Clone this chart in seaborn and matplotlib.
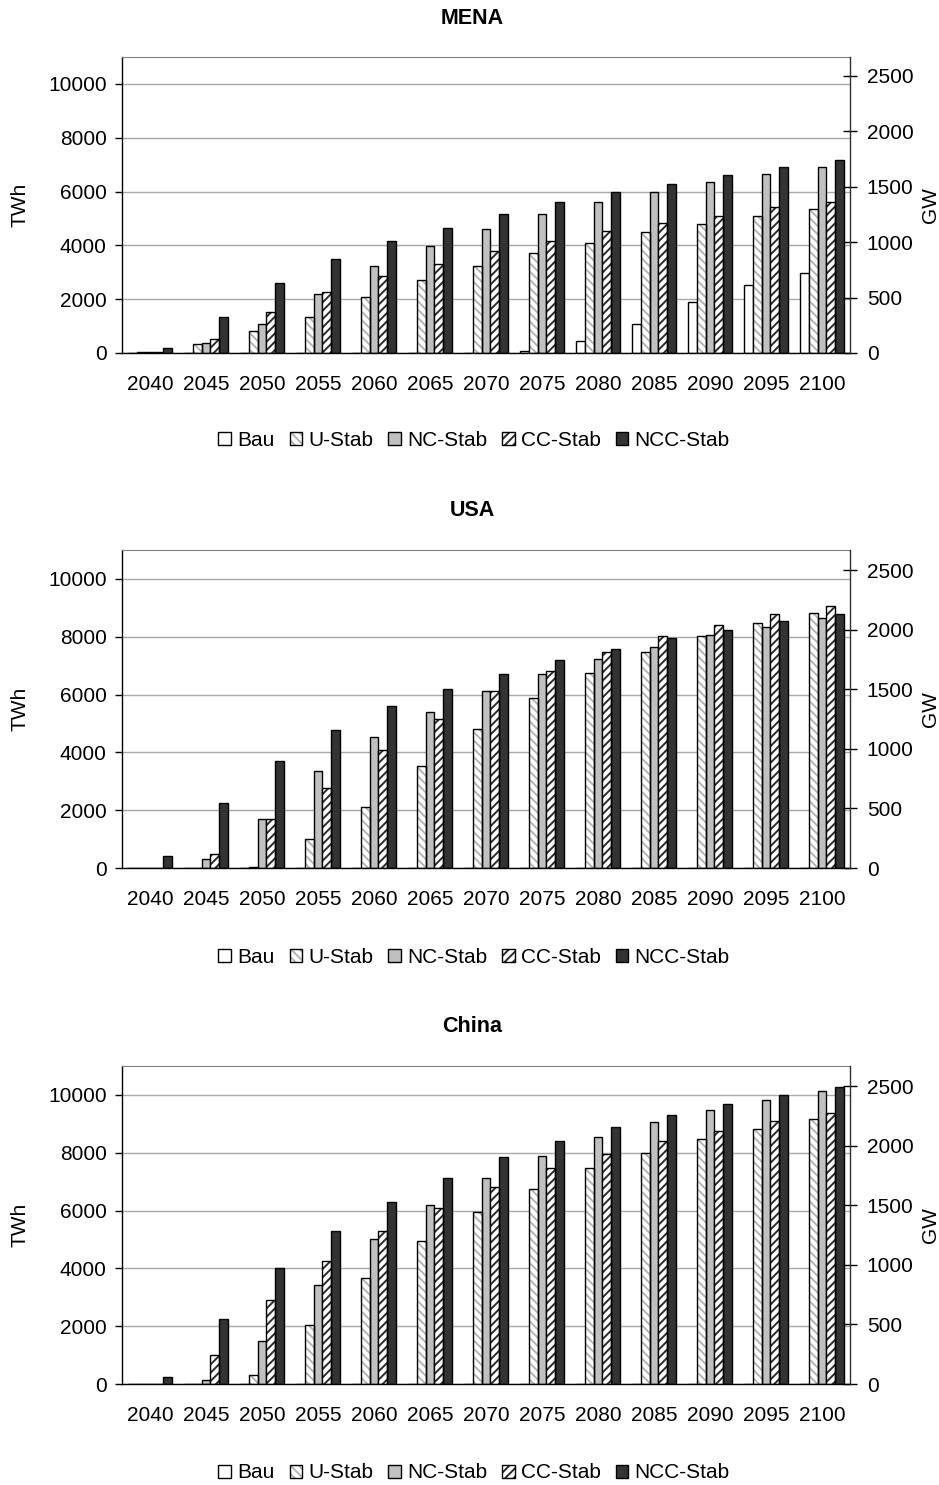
import matplotlib
matplotlib.use("Agg")
import matplotlib.pyplot as plt
from matplotlib.patches import Patch, Rectangle
from matplotlib.legend_handler import HandlerTuple
import seaborn as sns
import numpy as np
import pandas as pd

years = ['2040', '2045', '2050', '2055', '2060', '2065', '2070',
         '2075', '2080', '2085', '2090', '2095', '2100']
scenarios = ['Bau', 'U-Stab', 'NC-Stab', 'CC-Stab', 'NCC-Stab']

# TWh
mena_bau = [0, 0, 0, 0, 0, 0, 0, 60, 430, 1090, 1880, 2510, 2960]
mena_u = [50, 320, 820, 1340, 2080, 2700, 3220, 3710, 4100, 4480, 4790, 5100, 5360]
mena_nc = [50, 390, 1090, 2210, 3220, 3960, 4590, 5170, 5600, 5980, 6350, 6670, 6930]
mena_cc = [50, 510, 1520, 2270, 2850, 3320, 3780, 4150, 4540, 4840, 5100, 5410, 5600]
mena_ncc = [180, 1340, 2600, 3480, 4160, 4660, 5170, 5600, 5980, 6290, 6620, 6930, 7180]

usa_bau = [0, 0, 0, 0, 0, 0, 0, 0, 0, 0, 0, 0, 0]
usa_u = [0, 0, 50, 1000, 2120, 3530, 4820, 5890, 6760, 7470, 8010, 8480, 8810]
usa_nc = [0, 310, 1690, 3350, 4530, 5400, 6120, 6710, 7220, 7650, 8050, 8350, 8650]
usa_cc = [0, 470, 1690, 2780, 4070, 5170, 6120, 6820, 7470, 8010, 8410, 8770, 9060]
usa_ncc = [420, 2240, 3710, 4770, 5590, 6190, 6710, 7180, 7590, 7950, 8240, 8540, 8770]

chn_bau = [0, 0, 0, 0, 0, 0, 0, 0, 0, 0, 0, 0, 0]
chn_u = [0, 0, 300, 2030, 3660, 4950, 5950, 6750, 7480, 8000, 8480, 8830, 9180]
chn_nc = [0, 140, 1490, 3420, 5010, 6190, 7110, 7880, 8540, 9060, 9470, 9830, 10120]
chn_cc = [0, 990, 2890, 4250, 5300, 6100, 6820, 7480, 7950, 8410, 8760, 9110, 9360]
chn_ncc = [230, 2240, 4020, 5300, 6300, 7110, 7840, 8410, 8880, 9300, 9700, 10000, 10290]

regions = ['MENA', 'USA', 'China']
region_data = {
    'MENA': [mena_bau, mena_u, mena_nc, mena_cc, mena_ncc],
    'USA': [usa_bau, usa_u, usa_nc, usa_cc, usa_ncc],
    'China': [chn_bau, chn_u, chn_nc, chn_cc, chn_ncc],
}

# face, hatch, hatch colour
styles = {
    'Bau': ('white', None, None),
    'U-Stab': ('white', '\\\\\\\\', '#b4b4b4'),
    'NC-Stab': ('#c0c0c0', None, None),
    'CC-Stab': ('white', '////', '#2a2a2a'),
    'NCC-Stab': ('#333333', None, None),
}

sns.set_style("white")
plt.rcParams['font.family'] = ['Liberation Sans', 'DejaVu Sans']
plt.rcParams['hatch.linewidth'] = 1.4
for k in ['text.color', 'axes.labelcolor', 'xtick.color', 'ytick.color']:
    plt.rcParams[k] = 'black'

FS = 15
W, H = 939, 1485
fig = plt.figure(figsize=(W / 100, H / 100), dpi=100)

# panel layout in pixels: (axes top, axes bottom, title y, legend y)
layout = {
    'MENA': (57, 353, 18, 440),
    'USA': (550, 868, 511, 957),
    'China': (1066, 1384, 1027, 1473),
}
ax_left, ax_right = 122, 850


def make_df(region):
    rows = []
    for s, vals in zip(scenarios, region_data[region]):
        for y, v in zip(years, vals):
            rows.append({'year': y, 'scenario': s, 'TWh': v})
    return pd.DataFrame(rows)


def draw_panel(region):
    top, bottom, ty, ly = layout[region]
    ax = fig.add_axes([ax_left / W, 1 - bottom / H,
                       (ax_right - ax_left) / W, (bottom - top) / H])
    df = make_df(region)
    sns.barplot(data=df, x='year', y='TWh', hue='scenario', order=years,
                hue_order=scenarios, ax=ax, legend=False, width=0.8,
                edgecolor='black', linewidth=1.0, errorbar=None)
    for s, cont in zip(scenarios, ax.containers):
        face, hatch, hcol = styles[s]
        for b in cont:
            b.set_facecolor(face)
            if hatch:
                b.set_hatch(hatch)
                b.set_edgecolor(hcol)
                b.set_linewidth(0)
                ax.add_patch(Rectangle((b.get_x(), b.get_y()), b.get_width(),
                                       b.get_height(), fill=False,
                                       edgecolor='black', linewidth=1.0,
                                       zorder=b.get_zorder() + 0.1))

    ax.set_xlim(-0.5, len(years) - 0.5)
    ax.set_ylim(0, 11000)
    ax.set_yticks(np.arange(0, 10001, 2000))
    ax.set_xticks(np.arange(-0.5, len(years), 1), minor=True)
    ax.tick_params(axis='x', which='major', length=0, pad=16, labelsize=FS)
    ax.tick_params(axis='x', which='minor', length=5, width=1, direction='out',
                   color='black')
    ax.tick_params(axis='y', length=5, width=1, direction='out', pad=6,
                   labelsize=FS, left=True, color='black')
    ax.yaxis.grid(True, color='#a8a8a8', linewidth=1.0)
    ax.set_axisbelow(True)
    ax.set_xlabel('')
    ax.set_ylabel('TWh', fontsize=FS)
    ax.yaxis.set_label_coords(-0.127, 0.5)
    for side in ['left', 'bottom']:
        ax.spines[side].set_color('black')
        ax.spines[side].set_linewidth(1.0)
    ax.spines['top'].set_color('#808080')
    ax.spines['right'].set_visible(False)

    ax2 = ax.twinx()
    ax2.set_ylim(0, 2670)
    ax2.set_yticks(np.arange(0, 2501, 500))
    ax2.tick_params(axis='y', length=10, width=1, direction='inout', pad=7,
                    labelsize=FS, right=True, color='black')
    ax2.set_ylabel('GW', fontsize=FS)
    ax2.yaxis.set_label_coords(1.097, 0.5)
    ax2.spines['right'].set_color('#303030')
    ax2.spines['right'].set_linewidth(1.0)
    for side in ['left', 'top', 'bottom']:
        ax2.spines[side].set_visible(False)
    ax2.grid(False)

    fig.text(472 / W, 1 - ty / H, region, ha='center', va='center',
             fontsize=15.5, fontweight='bold')

    handles = []
    for s in scenarios:
        face, hatch, hcol = styles[s]
        if hatch:
            handles.append((Patch(facecolor=face, edgecolor=hcol, hatch=hatch,
                                  linewidth=0),
                            Patch(facecolor='none', edgecolor='black',
                                  linewidth=1.0)))
        else:
            handles.append(Patch(facecolor=face, edgecolor='black',
                                 linewidth=1.0))
    fig.legend(handles, scenarios, loc='center', ncol=5,
               bbox_to_anchor=(474 / W, 1 - ly / H), frameon=False,
               fontsize=FS, handlelength=0.6, handleheight=0.6,
               handletextpad=0.3, columnspacing=0.72, borderpad=0,
               handler_map={tuple: HandlerTuple(ndivide=1, pad=0)})


for r in regions:
    draw_panel(r)

fig.savefig('out.png', dpi=100)
